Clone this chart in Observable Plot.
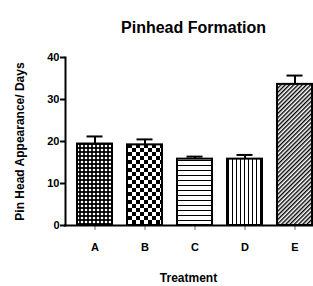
<!DOCTYPE html>
<html><head>
<meta charset="utf-8">
<script src="https://cdn.jsdelivr.net/npm/d3@7"></script>
<script src="https://cdn.jsdelivr.net/npm/@observablehq/plot@0.6"></script>
<style>body{margin:0;background:#fff}</style>
</head><body><div id="chart"></div>
<script>
const treatments = ["A", "B", "C", "D", "E"];
const means = [19.4, 19.2, 15.8, 15.8, 33.6];
const errors = [1.8, 1.3, 0.6, 1.0, 2.1];
const patterns = ["pA", "pB", "pC", "pD", "pE"];
const yTicks = [0, 10, 20, 30, 40];
const title = "Pinhead Formation";
const yLabel = "Pin Head Appearance/ Days";
const xLabel = "Treatment";

const data = treatments.map((t, i) => ({
  t, mean: means[i], hi: means[i] + errors[i], fill: `url(#${patterns[i]})`
}));

const font = "'Liberation Sans', Arial, Helvetica, sans-serif";

const plot = Plot.plot({
  width: 313, height: 286,
  marginLeft: 65, marginRight: 0, marginTop: 57, marginBottom: 61,
  style: {fontFamily: font, fontWeight: "bold", background: "white", color: "black"},
  x: {domain: treatments, range: [65, 323], paddingInner: 0.31, paddingOuter: 0.197, label: null, axis: null},
  y: {domain: [0, 40], label: null, axis: null},
  color: {type: "identity"},
  marks: [
    Plot.ruleX(data, {x: "t", y1: "mean", y2: "hi", stroke: "black", strokeWidth: 2}),
    Plot.tickY(data, {x: "t", y: "hi", stroke: "black", strokeWidth: 2, insetLeft: 9.5, insetRight: 9.5}),
    Plot.barY(data, {x: "t", y: "mean", fill: "fill", stroke: "black", strokeWidth: 2}),
    Plot.axisY({ticks: yTicks, tickSize: 5, tickPadding: 1, fontSize: 11, fontWeight: "bold", strokeWidth: 2, label: null}),
    Plot.axisX({tickSize: 5, tickPadding: 13, fontSize: 11, fontWeight: "bold", strokeWidth: 1, stroke: "#666", label: null}),
    Plot.ruleY([0], {stroke: "black", strokeWidth: 2, insetLeft: -1}),
    Plot.frame({anchor: "left", stroke: "black", strokeWidth: 2}),
    Plot.text([title], {frameAnchor: "top", dy: -36, dx: 4, fontSize: 16, fontWeight: "bold", fill: "black"}),
    Plot.text([xLabel], {frameAnchor: "bottom", dy: 56, dx: -1, fontSize: 12, fontWeight: "bold", fill: "black"}),
    Plot.text([yLabel], {frameAnchor: "left", dx: -45, rotate: -90, textAnchor: "middle", fontSize: 12, fontWeight: "bold", fill: "black"})
  ]
});

d3.select(plot).insert("defs", ":first-child").html(`
  <pattern id="pA" patternUnits="userSpaceOnUse" width="4" height="4">
    <rect width="4" height="4" fill="black"/>
    <circle cx="2" cy="2" r="1.3" fill="white"/>
  </pattern>
  <pattern id="pB" patternUnits="userSpaceOnUse" width="8" height="8">
    <rect width="8" height="8" fill="white"/>
    <rect width="4" height="4" fill="black"/>
    <rect x="4" y="4" width="4" height="4" fill="black"/>
  </pattern>
  <pattern id="pC" patternUnits="userSpaceOnUse" width="5" height="5">
    <rect width="5" height="5" fill="white"/>
    <rect width="5" height="1" fill="black"/>
  </pattern>
  <pattern id="pD" patternUnits="userSpaceOnUse" width="4" height="4">
    <rect width="4" height="4" fill="white"/>
    <rect width="1" height="4" fill="black"/>
  </pattern>
  <pattern id="pE" patternUnits="userSpaceOnUse" width="3" height="3" patternTransform="rotate(45)">
    <rect width="3" height="3" fill="white"/>
    <rect width="1.4" height="3" fill="black"/>
  </pattern>
`);

document.getElementById("chart").appendChild(plot);
</script>
</body></html>
